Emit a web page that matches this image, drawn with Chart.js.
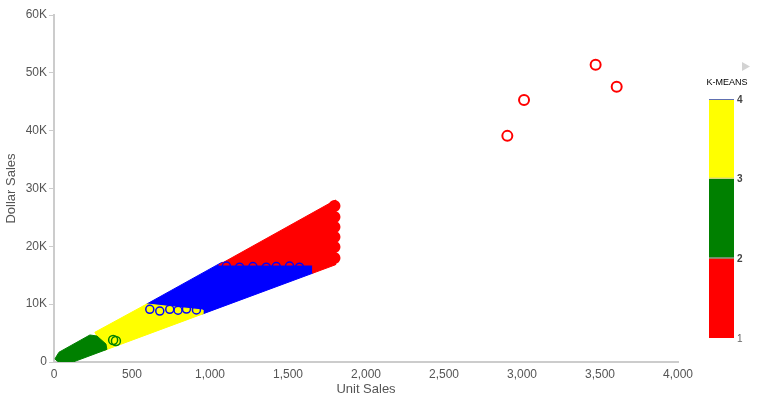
<!DOCTYPE html>
<html>
<head>
<meta charset="utf-8">
<script src="https://cdn.jsdelivr.net/npm/chart.js@4/dist/chart.umd.min.js"></script>
<style>
  body { margin: 0; background: #fff; }
  canvas { display: block; }
</style>
</head>
<body>
<canvas id="chart" width="758" height="411"></canvas>
<script>
// outlines of the dense clusters [unit sales, dollar sales]
const redCluster = [[1056, 16770], [1805, 28010], [1805, 16820], [1658, 15350], [1658, 16770]]
const blueCluster = [[595, 10030], [1075, 17220], [1658, 17220], [1658, 15350], [954, 8320]]
const yellowCluster = [[262, 5140], [595, 10030], [954, 8990], [954, 8320], [326, 2040]]
const greenCluster = [[6, 520], [13, 860], [32, 1690], [230, 4670], [275, 4500], [333, 3110], [339, 2180], [122, 0], [38, 0], [19, 170]]

// single points that stand out of the clusters
const redEdge = [[1798, 26970], [1798, 25070], [1798, 23340], [1798, 21610], [1798, 19880], [1798, 17980]]
const blueRingsHigh = [[1105, 16600], [1190, 16400], [1275, 16500], [1361, 16400], [1425, 16500], [1510, 16600], [1574, 16400]]
const blueRingsLow = [[614, 9100], [678, 8800], [742, 9100], [795, 8950], [849, 9150], [913, 9000]]
const greenRings = [[379, 3800], [397, 3630]]
const outliers = [[2906, 39100], [3013, 45300], [3472, 51400], [3607, 47600]]

// colour bar legend
const legendTicks = ['1', '2', '3', '4']
const legendColors = ['#ff0000', '#008000', '#ffff00']

const pts = arr => arr.map(([x, y]) => ({x, y}))
const closed = arr => pts(arr.concat([arr[0]]))

function shape(outline, color, order) {
  return {
    data: closed(outline),
    showLine: true,
    fill: 'shape',
    backgroundColor: color,
    borderColor: color,
    borderWidth: 1,
    pointRadius: 0,
    order: order
  }
}

function rings(list, color, fillColor, order, r, w) {
  return {
    data: pts(list),
    showLine: false,
    pointRadius: r,
    pointBorderWidth: w,
    pointBorderColor: color,
    pointBackgroundColor: fillColor,
    order: order
  }
}

const colorBar = {
  id: 'colorBar',
  afterDraw(chart) {
    const ctx = chart.ctx
    const left = 709, width = 25, top = 99, bottom = 338
    const step = (bottom - top) / legendColors.length
    ctx.save()
    // small arrow
    ctx.fillStyle = '#d3d3d3'
    ctx.beginPath()
    ctx.moveTo(742, 62)
    ctx.lineTo(742, 71)
    ctx.lineTo(750, 66.5)
    ctx.closePath()
    ctx.fill()
    ctx.fillStyle = '#000'
    ctx.font = '9px Arial, "Liberation Sans", sans-serif'
    ctx.textAlign = 'center'
    ctx.textBaseline = 'middle'
    ctx.fillText('K-MEANS', 727, 83)
    legendColors.forEach((c, i) => {
      ctx.fillStyle = c
      ctx.fillRect(left, bottom - step * (i + 1), width, step)
    })
    ctx.fillStyle = '#c8c8a0'
    ctx.fillRect(left, bottom - step * 2 - 1, width, 1)
    ctx.fillStyle = '#a0a0a0'
    ctx.fillRect(left, bottom - step - 1, width, 1)
    ctx.fillStyle = '#6070b0'
    ctx.fillRect(left, top, width, 1)
    ctx.textAlign = 'left'
    legendTicks.forEach((t, i) => {
      ctx.fillStyle = i === 0 ? '#666' : '#444'
      ctx.font = (i === 0 ? '' : 'bold ') + '10px Arial, "Liberation Sans", sans-serif'
      ctx.fillText(t, 737, bottom - step * i + 1)
    })
    ctx.restore()
  }
}

const axisFont = {family: 'Arial, "Liberation Sans", sans-serif', size: 12}
const titleFont = {family: 'Arial, "Liberation Sans", sans-serif', size: 13}

new Chart(document.getElementById('chart'), {
  type: 'scatter',
  data: {
    datasets: [
      shape(blueCluster, '#0000ff', 9),
      shape(redCluster, '#ff0000', 8),
      shape(yellowCluster, '#ffff00', 7),
      shape(greenCluster, '#008000', 6),
      rings(redEdge, '#ff0000', '#ff0000', 5, 5, 2),
      rings(blueRingsHigh, '#0000ff', 'rgba(0,0,0,0)', 4, 4, 1.5),
      rings(blueRingsLow, '#0000ff', 'rgba(0,0,0,0)', 3, 4, 1.5),
      rings(greenRings, '#008000', 'rgba(0,0,0,0)', 2, 4.5, 1.5),
      rings(outliers, '#ff0000', '#ffffff', 1, 5, 2)
    ]
  },
  options: {
    responsive: false,
    animation: false,
    devicePixelRatio: 1,
    layout: {padding: {top: 15, right: 80, bottom: 10, left: 0}},
    plugins: {
      legend: {display: false},
      tooltip: {enabled: false}
    },
    scales: {
      x: {
        type: 'linear',
        min: 0,
        max: 4000,
        afterFit: s => { s.height = 39 },
        border: {display: true, color: '#cccccc', width: 2},
        grid: {display: true, drawOnChartArea: false, drawTicks: false},
        ticks: {
          stepSize: 500,
          padding: 5,
          maxRotation: 0,
          color: '#555',
          font: axisFont,
          callback: v => v.toLocaleString('en-US')
        },
        title: {display: true, text: 'Unit Sales', color: '#555', font: titleFont}
      },
      y: {
        type: 'linear',
        min: 0,
        max: 60000,
        afterFit: s => { s.width = 54 },
        border: {display: true, color: '#cccccc', width: 2},
        grid: {display: true, drawOnChartArea: false, drawTicks: true, tickLength: 5, color: '#cccccc'},
        ticks: {
          stepSize: 10000,
          padding: 2,
          color: '#555',
          font: axisFont,
          callback: v => v === 0 ? '0' : (v / 1000) + 'K'
        },
        title: {display: true, text: 'Dollar Sales', color: '#555', font: titleFont}
      }
    }
  },
  plugins: [colorBar]
})
</script>
</body>
</html>
